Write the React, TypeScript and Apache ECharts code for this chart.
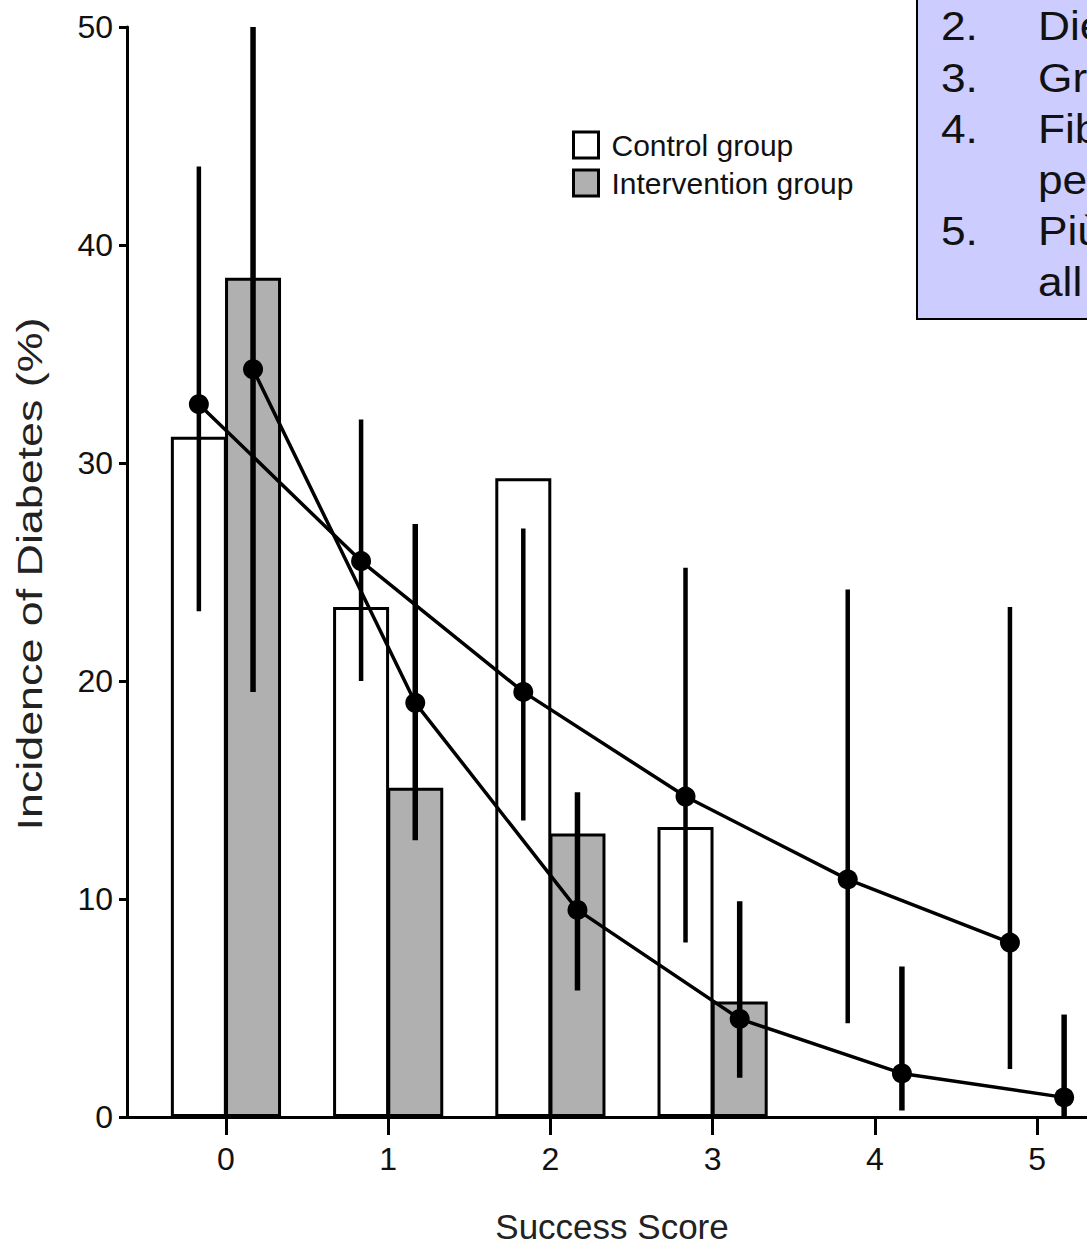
import React, { useEffect, useRef } from "react";
import * as echarts from "echarts";

// ---- data ----
const scores = [0, 1, 2, 3, 4, 5];
const controlBar: (number | null)[] = [31.2, 23.4, 29.3, 13.3, null, null];
const interventionBar: (number | null)[] = [38.5, 15.1, 13.0, 5.3, null, null];
const controlRate = [32.7, 25.5, 19.5, 14.7, 10.9, 8.0];
const controlLow = [23.2, 20.0, 13.6, 8.0, 4.3, 2.2];
const controlHigh = [43.6, 32.0, 27.0, 25.2, 24.2, 23.4];
const interventionRate = [34.3, 19.0, 9.5, 4.5, 2.0, 0.9];
const interventionLow = [19.5, 12.7, 5.8, 1.8, 0.3, 0.0];
const interventionHigh = [50.0, 27.2, 14.9, 9.9, 6.9, 4.7];
const yTicks = [0, 10, 20, 30, 40, 50];
const legendLabels = ["Control group", "Intervention group"];
const noteNumbers = ["2.", "3.", "4.", "", "5.", ""];
const noteTexts = ["Die", "Gra", "Fib", "per", "Più", "all"];
const xTitle = "Success Score";
const yTitle = "Incidence of Diabetes (%)";

// ---- styling constants ----
const OFFSET = 0.167;
const SANS = "'Liberation Sans', Arial, sans-serif";
const GRAY = "#b0b0b0";

function errorSeries(name: string, low: number[], high: number[], sign: number, width: number) {
  return {
    name,
    type: "custom",
    z: 3,
    data: scores.map((s, i) => [s + sign * OFFSET, low[i], high[i]]),
    encode: { x: 0, y: [1, 2] },
    renderItem: (_p: any, api: any) => {
      const x = api.value(0);
      const a = api.coord([x, api.value(1)]);
      const b = api.coord([x, api.value(2)]);
      return {
        type: "line",
        shape: { x1: a[0], y1: a[1], x2: b[0], y2: b[1] },
        style: { stroke: "#000", lineWidth: width, lineCap: "butt" },
      };
    },
  };
}

export default function App() {
  const ref = useRef<HTMLDivElement>(null);
  useEffect(() => {
    if (!ref.current) return;
    const chart = echarts.init(ref.current, null, { renderer: "svg" });
    const barData = (vals: (number | null)[], sign: number) =>
      vals
        .map((v, i) => (v == null ? null : [scores[i] + sign * OFFSET, v]))
        .filter((d) => d != null);

    const noteGraphics: any[] = [];
    noteTexts.forEach((t, i) => {
      const y = 40 + 51.2 * i - 14;
      if (noteNumbers[i]) {
        noteGraphics.push({
          type: "text",
          x: 941,
          y,
          z: 101,
          scaleX: 1.08,
          style: { text: noteNumbers[i], fontSize: 41, fontFamily: SANS, fill: "#111", align: "left", verticalAlign: "middle" },
        });
      }
      noteGraphics.push({
        type: "text",
        x: 1038,
        y,
        z: 101,
        scaleX: 1.08,
        style: { text: t, fontSize: 41, fontFamily: SANS, fill: "#111", align: "left", verticalAlign: "middle" },
      });
    });

    chart.setOption({
      animation: false,
      backgroundColor: "#fff",
      grid: { left: 127, right: 0, top: 27, bottom: 128, containLabel: false },
      xAxis: {
        type: "value",
        min: -0.61,
        max: 5.308,
        splitLine: { show: false },
        axisLine: { show: true, onZero: false, lineStyle: { color: "#000", width: 3 } },
        axisTick: { show: true, customValues: scores, length: 18, lineStyle: { color: "#000", width: 3 } },
        axisLabel: { customValues: scores, fontSize: 32, fontFamily: SANS, color: "#111", margin: 26 },
      },
      yAxis: {
        type: "value",
        min: 0,
        max: 50,
        interval: 10,
        splitLine: { show: false },
        axisLine: { show: true, onZero: false, lineStyle: { color: "#000", width: 3 } },
        axisTick: { show: true, customValues: yTicks, length: 8, lineStyle: { color: "#000", width: 3 } },
        axisLabel: { customValues: yTicks, fontSize: 32, fontFamily: SANS, color: "#111", margin: 14 },
      },
      legend: {
        orient: "vertical",
        left: 567,
        top: 125,
        itemWidth: 25,
        itemHeight: 26,
        itemGap: 8,
        icon: "rect",
        selectedMode: false,
        textStyle: { fontSize: 30, fontFamily: SANS, color: "#111", padding: [0, 0, 0, 8] },
        data: [
          { name: legendLabels[0], itemStyle: { color: "#fff", borderColor: "#000", borderWidth: 3 } },
          { name: legendLabels[1], itemStyle: { color: GRAY, borderColor: "#000", borderWidth: 3 } },
        ],
      },
      series: [
        {
          name: legendLabels[0],
          type: "bar",
          barWidth: 56,
          barGap: "-100%",
          z: 1,
          data: barData(controlBar, -1),
          itemStyle: { color: "#fff", borderColor: "#000", borderWidth: 3 },
        },
        {
          name: legendLabels[1],
          type: "bar",
          barWidth: 56,
          barGap: "-100%",
          z: 1,
          data: barData(interventionBar, 1),
          itemStyle: { color: GRAY, borderColor: "#000", borderWidth: 3 },
        },
        errorSeries("Control 95% CI", controlLow, controlHigh, -1, 4.5),
        errorSeries("Intervention 95% CI", interventionLow, interventionHigh, 1, 5.5),
        {
          name: "Control rate",
          type: "line",
          z: 4,
          data: scores.map((s, i) => [s - OFFSET, controlRate[i]]),
          symbol: "circle",
          symbolSize: 20,
          itemStyle: { color: "#000" },
          lineStyle: { color: "#000", width: 3.5 },
        },
        {
          name: "Intervention rate",
          type: "line",
          z: 4,
          data: scores.map((s, i) => [s + OFFSET, interventionRate[i]]),
          symbol: "circle",
          symbolSize: 20,
          itemStyle: { color: "#000" },
          lineStyle: { color: "#000", width: 3.5 },
        },
      ],
      graphic: [
        {
          type: "text",
          x: 30,
          y: 574,
          rotation: Math.PI / 2,
          scaleX: 1.28,
          style: { text: yTitle, fontSize: 35, fontFamily: SANS, fill: "#222", align: "center", verticalAlign: "middle" },
        },
        {
          type: "text",
          x: 612,
          y: 1226,
          style: { text: xTitle, fontSize: 35, fontFamily: SANS, fill: "#222", align: "center", verticalAlign: "middle" },
        },
        {
          type: "rect",
          z: 100,
          shape: { x: 917, y: -5, width: 200, height: 324 },
          style: { fill: "#ccccff", stroke: "#000", lineWidth: 2 },
        },
        ...noteGraphics,
      ],
    });
    return () => chart.dispose();
  }, []);
  return <div ref={ref} style={{ position: "absolute", left: 0, top: 0, width: 1087, height: 1245 }} />;
}
